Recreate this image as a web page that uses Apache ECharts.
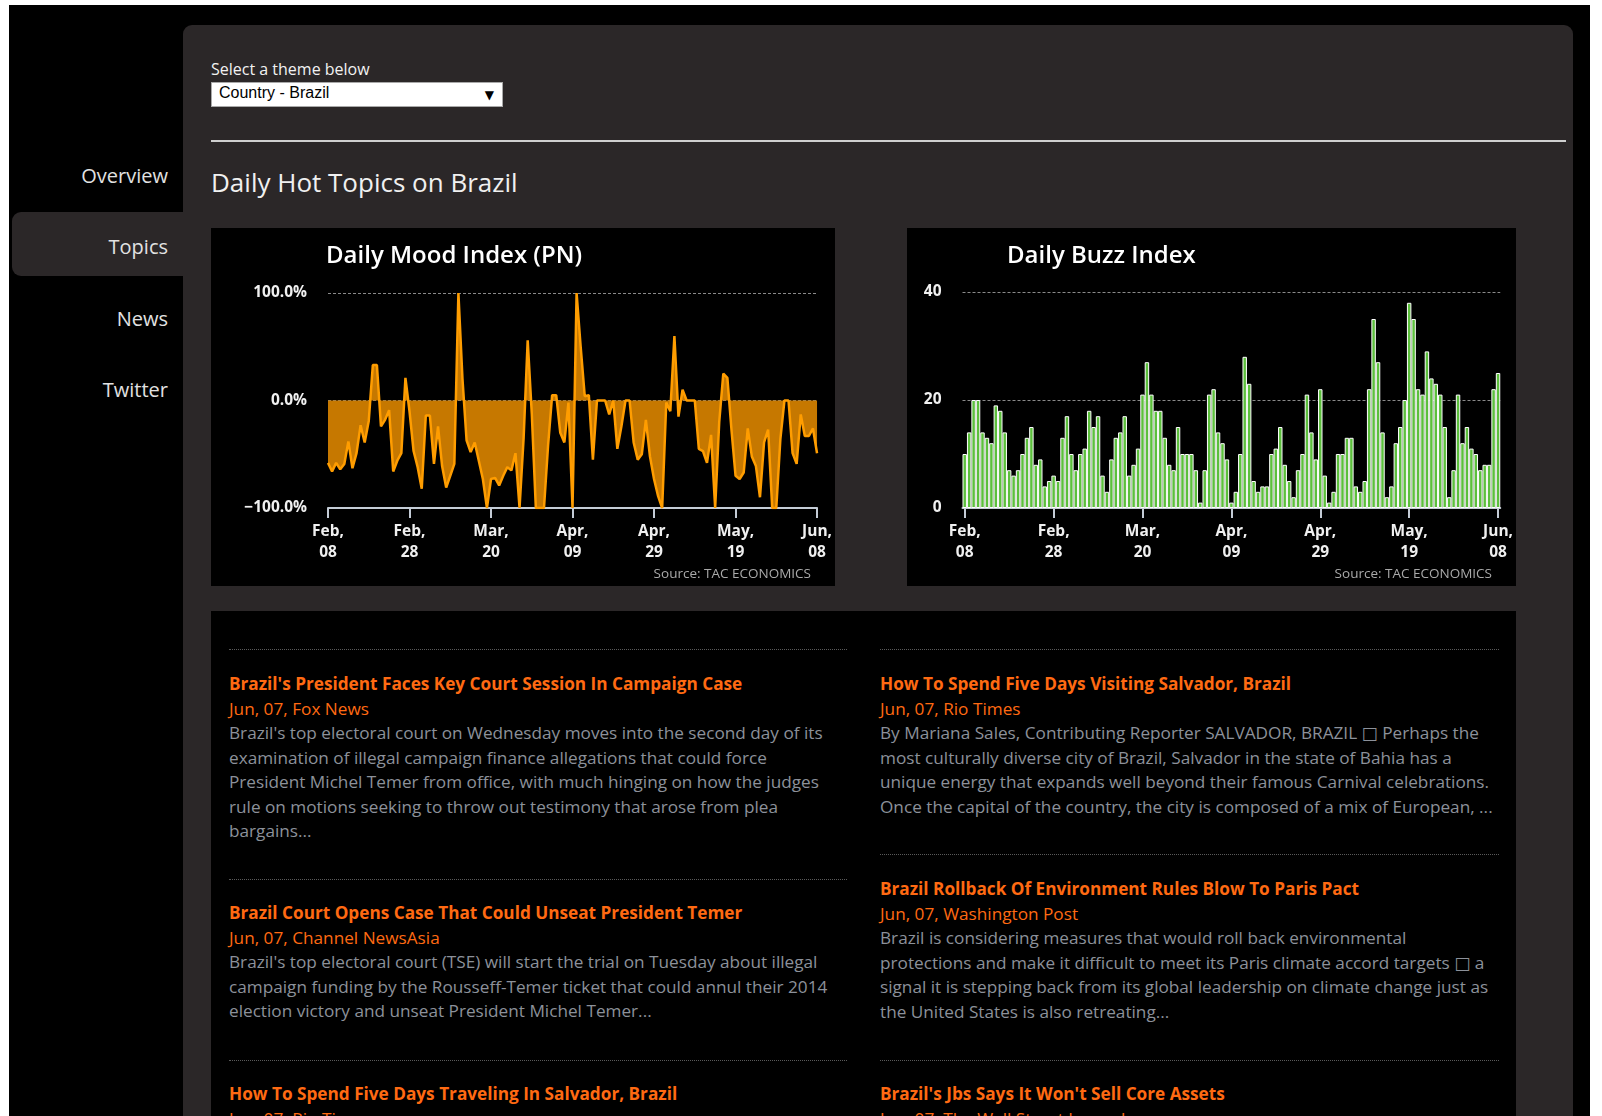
<!DOCTYPE html>
<html>
<head>
<meta charset="utf-8">
<title>Daily Hot Topics on Brazil</title>
<script src="https://cdn.jsdelivr.net/npm/echarts@6/dist/echarts.min.js"></script>
<style>
  html, body { margin: 0; padding: 0; background: #fff; }
  .page { position: relative; width: 1602px; height: 1116px; overflow: hidden; background: #fff;
    font-family: "Open Sans", "DejaVu Sans", sans-serif; }
  .frame { position: absolute; left: 9px; top: 5px; width: 1581px; height: 1111px; background: #000; }
  .panel { position: absolute; left: 183px; top: 25px; width: 1390px; height: 1100px; background: #2b2728; border-radius: 9px; }
  .nav { position: absolute; right: 1434px; color: #e2e2e2; font-size: 20px; line-height: 28px; text-align: right; }
  .nav-active { position: absolute; left: 12px; top: 212px; width: 180px; height: 64px; background: #2b2728; border-radius: 9px 0 0 9px; }
  .abs { position: absolute; }
  .select-label { left: 211px; top: 58px; color: #f2f2f2; font-size: 16px; line-height: 22px; }
  .select { left: 211px; top: 82px; width: 290px; height: 23px; background: #fff; border: 1px solid #a9a9a9; }
  .select span { position: absolute; left: 7px; top: 1px; font-family: "Liberation Sans", Arial, sans-serif; font-size: 16px; color: #000; }
  .select b { position: absolute; right: 8px; top: 3px; font-size: 12px; color: #000; }
  .rule { left: 211px; top: 140px; width: 1355px; height: 2px; background: #cfcfcf; }
  .heading { left: 211px; top: 164px; color: #f0f0f0; font-size: 26px; line-height: 36px; }
  .chartbox { position: absolute; background: #000; }
  .news { left: 211px; top: 611px; width: 1305px; height: 520px; background: #000; }
  .dots { position: absolute; height: 0; border-top: 1px dotted #5a5a5a; }
  .item { position: absolute; font-size: 17.2px; line-height: 24.5px; white-space: nowrap; }
  .item .t { color: #ff6a12; font-weight: 700; }
  .item .d { color: #ff6a12; }
  .item .b { color: #8c919a; }
</style>
</head>
<body>
<div class="page">
  <div class="frame"></div>
  <div class="panel"></div>
  <div class="nav-active"></div>
  <div class="nav" style="top:162px">Overview</div>
  <div class="nav" style="top:233px">Topics</div>
  <div class="nav" style="top:305px">News</div>
  <div class="nav" style="top:376px">Twitter</div>

  <div class="abs select-label">Select a theme below</div>
  <div class="abs select"><span>Country - Brazil</span><b>&#9660;</b></div>
  <div class="abs rule"></div>
  <div class="abs heading">Daily Hot Topics on Brazil</div>

  <div id="mood" class="chartbox" style="left:211px; top:228px; width:624px; height:358px;"></div>
  <div id="buzz" class="chartbox" style="left:907px; top:228px; width:609px; height:358px;"></div>

  <div class="abs news"></div>
  <div class="dots" style="left:229px; top:649px; width:618px;"></div>
  <div class="dots" style="left:229px; top:879px; width:618px;"></div>
  <div class="dots" style="left:229px; top:1060px; width:618px;"></div>
  <div class="dots" style="left:880px; top:649px; width:619px;"></div>
  <div class="dots" style="left:880px; top:854px; width:619px;"></div>
  <div class="dots" style="left:880px; top:1060px; width:619px;"></div>

  <div class="item" style="left:229px; top:672px;">
    <div class="t">Brazil's President Faces Key Court Session In Campaign Case</div>
    <div class="d">Jun, 07, Fox News</div>
    <div class="b">Brazil's top electoral court on Wednesday moves into the second day of its<br>examination of illegal campaign finance allegations that could force<br>President Michel Temer from office, with much hinging on how the judges<br>rule on motions seeking to throw out testimony that arose from plea<br>bargains...</div>
  </div>
  <div class="item" style="left:229px; top:901px;">
    <div class="t">Brazil Court Opens Case That Could Unseat President Temer</div>
    <div class="d">Jun, 07, Channel NewsAsia</div>
    <div class="b">Brazil's top electoral court (TSE) will start the trial on Tuesday about illegal<br>campaign funding by the Rousseff-Temer ticket that could annul their 2014<br>election victory and unseat President Michel Temer...</div>
  </div>
  <div class="item" style="left:229px; top:1082px;">
    <div class="t">How To Spend Five Days Traveling In Salvador, Brazil</div>
    <div class="d">Jun, 07, Rio Times</div>
  </div>
  <div class="item" style="left:880px; top:672px;">
    <div class="t">How To Spend Five Days Visiting Salvador, Brazil</div>
    <div class="d">Jun, 07, Rio Times</div>
    <div class="b">By Mariana Sales, Contributing Reporter SALVADOR, BRAZIL &#9633; Perhaps the<br>most culturally diverse city of Brazil, Salvador in the state of Bahia has a<br>unique energy that expands well beyond their famous Carnival celebrations.<br>Once the capital of the country, the city is composed of a mix of European, ...</div>
  </div>
  <div class="item" style="left:880px; top:877px;">
    <div class="t">Brazil Rollback Of Environment Rules Blow To Paris Pact</div>
    <div class="d">Jun, 07, Washington Post</div>
    <div class="b">Brazil is considering measures that would roll back environmental<br>protections and make it difficult to meet its Paris climate accord targets &#9633; a<br>signal it is stepping back from its global leadership on climate change just as<br>the United States is also retreating...</div>
  </div>
  <div class="item" style="left:880px; top:1082px;">
    <div class="t">Brazil's Jbs Says It Won't Sell Core Assets</div>
    <div class="d">Jun, 07, The Wall Street Journal</div>
  </div>
</div>

<script>
// days Feb 08 -> Jun 08 (121 days)
const startDate = new Date(2017, 1, 8)
const monthNames = ['Jan', 'Feb', 'Mar', 'Apr', 'May', 'Jun', 'Jul', 'Aug', 'Sep', 'Oct', 'Nov', 'Dec']
const days = []
for (let i = 0; i < 121; i++) {
  const d = new Date(startDate.getTime() + i * 86400000)
  days.push(monthNames[d.getMonth()] + ',\n' + String(d.getDate()).padStart(2, '0'))
}

// Daily Mood Index (PN), in %
const moodValues = [
  -58, -66, -58, -64, -59, -38, -63, -49, -23, -39,
  -19, 33, 33, -24, -18, -9, -66, -56, -49, 21,
  -10, -47, -62, -82, -14, -14, -59, -24, -61, -81,
  -70, -59, 100, 20, -37, -48, -39, -56, -73, -100,
  -73, -72, -79, -70, -62, -65, -49, -100, -35, 56,
  -12, -100, -100, -100, -42, 5, 5, -30, -39, -2,
  -100, 100, 50, 4, 5, -55, 0, 0, 0, -13,
  0, -45, -24, 0, 0, -39, -55, -50, -18, -52,
  -73, -89, -100, -2, -10, 60, -15, 10, 0, 0,
  0, -45, -47, -58, -32, -100, -20, 25, 21, -27,
  -70, -73, -67, -26, -52, -61, -90, -39, -27, -100,
  -100, -36, 0, 0, -49, -59, -13, -33, -33, -26,
  -49
]

// Daily Buzz Index
const buzzValues = [
  10, 14, 20, 20, 14, 13, 12, 19, 18, 14,
  7, 6, 7, 10, 13, 15, 8, 9, 4, 5,
  6, 5, 13, 17, 10, 7, 10, 11, 18, 15,
  17, 6, 3, 9, 13, 14, 17, 6, 8, 11,
  21, 27, 21, 18, 18, 13, 8, 7, 15, 10,
  10, 10, 7, 1, 7, 21, 22, 14, 12, 9,
  1, 3, 10, 28, 23, 5, 3, 4, 4, 10,
  11, 15, 8, 5, 2, 7, 10, 21, 14, 9,
  22, 6, 1, 3, 10, 10, 13, 13, 4, 3,
  5, 22, 35, 27, 14, 2, 4, 12, 15, 20,
  38, 35, 22, 21, 29, 24, 23, 21, 15, 2,
  7, 21, 12, 15, 11, 10, 7, 8, 8, 22,
  25
]

const FONT = '"Open Sans", "DejaVu Sans", sans-serif'

const titleStyle = { color: '#ffffff', fontSize: 24, fontWeight: 600, fontFamily: FONT }
const sourceStyle = { color: '#a9a9a9', fontSize: 13.5, fontWeight: 'normal', fontFamily: FONT }
const axisLabelStyle = { color: '#f0f0f0', fontSize: 15.5, fontWeight: 'bold', fontFamily: FONT }

const xAxisBase = (boundaryGap) => ({
  type: 'category',
  data: days,
  boundaryGap: boundaryGap,
  axisLine: { show: true, onZero: false, lineStyle: { color: '#c4ccd6', width: 2 } },
  axisTick: { show: true, interval: 19, alignWithLabel: true, length: 10, lineStyle: { color: '#c4ccd6', width: 2 } },
  axisLabel: { ...axisLabelStyle, interval: 19, margin: 13, lineHeight: 21 },
  splitLine: { show: false },
})

const moodChart = echarts.init(document.getElementById('mood'))
moodChart.setOption({
  backgroundColor: '#000',
  animation: false,
  title: [
    { text: 'Daily Mood Index (PN)', left: 110, top: 11, textStyle: titleStyle },
    { text: 'Source: TAC ECONOMICS', right: 19, bottom: 0, textStyle: sourceStyle },
  ],
  grid: { left: 117, right: 16, top: 65, bottom: 78 },
  xAxis: xAxisBase(false),
  yAxis: {
    type: 'value',
    min: -100,
    max: 100,
    interval: 100,
    axisLine: { show: false },
    axisTick: { show: false },
    axisLabel: {
      ...axisLabelStyle,
      margin: 21,
      formatter: (v) => (v < 0 ? '\u2212' : '') + Math.abs(v).toFixed(1) + '%',
    },
    splitLine: { show: true, lineStyle: { color: '#8a8a8a', type: [3, 2], width: 1 } },
  },
  series: [
    {
      type: 'line',
      data: moodValues,
      symbol: 'none',
      lineStyle: { color: '#ff9d00', width: 2.5 },
      itemStyle: { color: '#ff9d00' },
      areaStyle: { color: '#c67800', opacity: 1, origin: 0 },
      z: 3,
    },
  ],
})

const buzzChart = echarts.init(document.getElementById('buzz'))
buzzChart.setOption({
  backgroundColor: '#000',
  animation: false,
  title: [
    { text: 'Daily Buzz Index', left: 95, top: 11, textStyle: titleStyle },
    { text: 'Source: TAC ECONOMICS', right: 19, bottom: 0, textStyle: sourceStyle },
  ],
  grid: { left: 55.5, right: 15, top: 64, bottom: 78 },
  xAxis: xAxisBase(true),
  yAxis: {
    type: 'value',
    min: 0,
    max: 40,
    interval: 20,
    axisLine: { show: false },
    axisTick: { show: false },
    axisLabel: { ...axisLabelStyle, margin: 21 },
    splitLine: { show: true, lineStyle: { color: '#8a8a8a', type: [3, 2], width: 1 } },
  },
  series: [
    {
      type: 'bar',
      data: buzzValues,
      barCategoryGap: 0,
      itemStyle: { color: '#5cbf3c', borderColor: '#ffffff', borderWidth: 1 },
    },
  ],
})
</script>
</body>
</html>
